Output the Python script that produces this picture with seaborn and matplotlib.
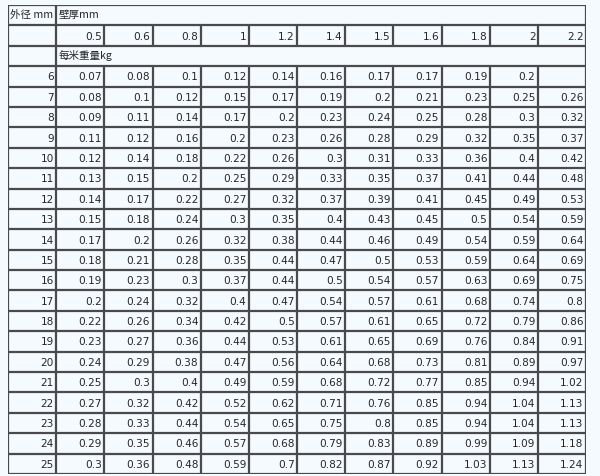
import numpy as np
import matplotlib
matplotlib.use("Agg")
import matplotlib.pyplot as plt
import seaborn as sns

thickness = ["0.5", "0.6", "0.8", "1", "1.2", "1.4", "1.5", "1.6", "1.8", "2", "2.2"]
diameters = [str(d) for d in range(6, 26)]
weights = [
    ["0.07", "0.08", "0.1", "0.12", "0.14", "0.16", "0.17", "0.17", "0.19", "0.2", ""],
    ["0.08", "0.1", "0.12", "0.15", "0.17", "0.19", "0.2", "0.21", "0.23", "0.25", "0.26"],
    ["0.09", "0.11", "0.14", "0.17", "0.2", "0.23", "0.24", "0.25", "0.28", "0.3", "0.32"],
    ["0.11", "0.12", "0.16", "0.2", "0.23", "0.26", "0.28", "0.29", "0.32", "0.35", "0.37"],
    ["0.12", "0.14", "0.18", "0.22", "0.26", "0.3", "0.31", "0.33", "0.36", "0.4", "0.42"],
    ["0.13", "0.15", "0.2", "0.25", "0.29", "0.33", "0.35", "0.37", "0.41", "0.44", "0.48"],
    ["0.14", "0.17", "0.22", "0.27", "0.32", "0.37", "0.39", "0.41", "0.45", "0.49", "0.53"],
    ["0.15", "0.18", "0.24", "0.3", "0.35", "0.4", "0.43", "0.45", "0.5", "0.54", "0.59"],
    ["0.17", "0.2", "0.26", "0.32", "0.38", "0.44", "0.46", "0.49", "0.54", "0.59", "0.64"],
    ["0.18", "0.21", "0.28", "0.35", "0.44", "0.47", "0.5", "0.53", "0.59", "0.64", "0.69"],
    ["0.19", "0.23", "0.3", "0.37", "0.44", "0.5", "0.54", "0.57", "0.63", "0.69", "0.75"],
    ["0.2", "0.24", "0.32", "0.4", "0.47", "0.54", "0.57", "0.61", "0.68", "0.74", "0.8"],
    ["0.22", "0.26", "0.34", "0.42", "0.5", "0.57", "0.61", "0.65", "0.72", "0.79", "0.86"],
    ["0.23", "0.27", "0.36", "0.44", "0.53", "0.61", "0.65", "0.69", "0.76", "0.84", "0.91"],
    ["0.24", "0.29", "0.38", "0.47", "0.56", "0.64", "0.68", "0.73", "0.81", "0.89", "0.97"],
    ["0.25", "0.3", "0.4", "0.49", "0.59", "0.68", "0.72", "0.77", "0.85", "0.94", "1.02"],
    ["0.27", "0.32", "0.42", "0.52", "0.62", "0.71", "0.76", "0.85", "0.94", "1.04", "1.13"],
    ["0.28", "0.33", "0.44", "0.54", "0.65", "0.75", "0.8", "0.85", "0.94", "1.04", "1.13"],
    ["0.29", "0.35", "0.46", "0.57", "0.68", "0.79", "0.83", "0.89", "0.99", "1.09", "1.18"],
    ["0.3", "0.36", "0.48", "0.59", "0.7", "0.82", "0.87", "0.92", "1.03", "1.13", "1.24"],
]

sns.set_theme(style="white")
plt.rcParams["font.family"] = ["DejaVu Sans", "Noto Sans CJK SC"]

bg = "#f5faff"
line = "#4a4a4a"
nrows = 3 + len(diameters)
ncols = 1 + len(thickness)

fig = plt.figure(figsize=(6, 4.76), dpi=100, facecolor=bg)
ax = fig.add_axes([8 / 600, 2 / 476, 578 / 600, 469 / 476])
# flat background grid via seaborn heatmap
sns.heatmap(np.zeros((nrows, ncols)), cmap=[bg], cbar=False, ax=ax, linewidths=0)
ax.set_xticks([]); ax.set_yticks([])
ax.set_xlim(0, ncols); ax.set_ylim(nrows, 0)

kw = dict(color=line, lw=1.6)
# outer border
for y in (0, nrows):
    ax.plot([0, ncols], [y, y], **kw)
for x in (0, ncols):
    ax.plot([x, x], [0, nrows], **kw)
# row lines
for r in range(1, nrows):
    ax.plot([0, ncols], [r, r], **kw)
# column lines (merged header cells skip them)
ax.plot([1, 1], [0, nrows], **kw)
for c in range(2, ncols):
    ax.plot([c, c], [1, 2], **kw)
    ax.plot([c, c], [3, nrows], **kw)

fs = 7.6
pad = 0.05
cjk = ["Noto Sans CJK SC", "DejaVu Sans"]
ax.text(pad, 0.5, "外径 mm", ha="left", va="center", fontsize=fs, family=cjk)
ax.text(1 + pad, 0.5, "壁厚mm", ha="left", va="center", fontsize=fs, family=cjk)
ax.text(1 + pad, 2.5, "每米重量kg", ha="left", va="center", fontsize=fs, family=cjk)
for j, t in enumerate(thickness):
    ax.text(j + 2 - pad, 1.55, t, ha="right", va="center", fontsize=fs)
for i, d in enumerate(diameters):
    ax.text(1 - pad, i + 3.55, d, ha="right", va="center", fontsize=fs)
    for j, w in enumerate(weights[i]):
        ax.text(j + 2 - pad, i + 3.55, w, ha="right", va="center", fontsize=fs)

fig.savefig("out.png", dpi=100, facecolor=bg)
